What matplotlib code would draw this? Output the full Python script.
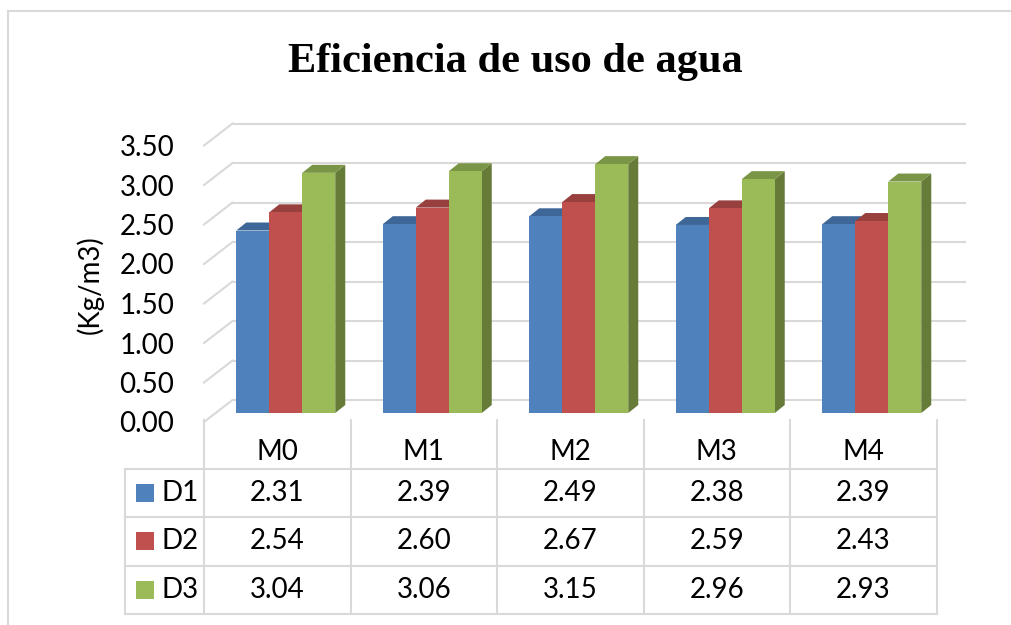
import numpy as np
import matplotlib.pyplot as plt
from matplotlib.patches import Polygon, Rectangle

# values shown in the data table
categories = ['M0', 'M1', 'M2', 'M3', 'M4']
series_names = ['D1', 'D2', 'D3']
d1 = [2.31, 2.39, 2.49, 2.38, 2.39]
d2 = [2.54, 2.60, 2.67, 2.59, 2.43]
d3 = [3.04, 3.06, 3.15, 2.96, 2.93]
yticks = [0.0, 0.5, 1.0, 1.5, 2.0, 2.5, 3.0, 3.5]

series = [d1, d2, d3]
front_cols = ['#4F81BD', '#C0504D', '#9BBB59']
top_cols = ['#3E6798', '#97403E', '#7A9545']
side_cols = ['#385D8A', '#8C3836', '#677B39']
grid_col = '#D9D9D9'
fs = 20

plt.rcParams['font.family'] = ['Lato', 'DejaVu Sans']

W, H = 1011, 625
fig = plt.figure(figsize=(W / 100, H / 100), dpi=100)


def box(left, top, right, bottom):
    # pixel box -> figure fraction rect
    return [left / W, 1 - bottom / H, (right - left) / W, (bottom - top) / H]


# front plane of the 3d plot area
ax = fig.add_axes(box(204, 145.5, 936.5, 422))
ax.set_xlim(-0.5, 4.5)
ax.set_ylim(0, 3.5)
px_x = 5 / 732.5
px_y = 3.5 / 276.5

# back wall offset and bar depth (pixels converted to data units)
back_dx, back_dy = 28.5 * px_x, 22 * px_y
shift_x, shift_y = 8.5 * px_x, 9 * px_y
depth_dx, depth_dy = 10 * px_x, 8 * px_y
bw = 33 * px_x

for v in yticks:
    ax.plot([-0.5 + back_dx, 4.5 + back_dx], [v + back_dy, v + back_dy],
            color=grid_col, lw=1.5, clip_on=False, zorder=1)
    ax.plot([-0.5, -0.5 + back_dx], [v, v + back_dy],
            color=grid_col, lw=1.5, clip_on=False, zorder=1)

xs = np.arange(len(categories))
for k, vals in enumerate(series):
    xc = xs + (k - 1) * bw + shift_x
    z = 3 + k
    ax.bar(xc, vals, width=bw, bottom=shift_y, color=front_cols[k],
           edgecolor='none', zorder=z)
    for x, v in zip(xc, vals):
        xl, xr = x - bw / 2, x + bw / 2
        y0, y1 = shift_y, shift_y + v
        top = [(xl, y1), (xr, y1), (xr + depth_dx, y1 + depth_dy), (xl + depth_dx, y1 + depth_dy)]
        side = [(xr, y0), (xr + depth_dx, y0 + depth_dy), (xr + depth_dx, y1 + depth_dy), (xr, y1)]
        ax.add_patch(Polygon(side, closed=True, facecolor=side_cols[k], edgecolor='none', zorder=z - 0.5))
        ax.add_patch(Polygon(top, closed=True, facecolor=top_cols[k], edgecolor='none', zorder=z - 0.5))

for s in ax.spines.values():
    s.set_visible(False)
ax.set_xticks([])
ax.set_yticks(yticks)
ax.set_yticklabels([f'{v:.2f}' for v in yticks])
ax.tick_params(axis='y', length=0, pad=21.5, labelsize=fs)
ax.patch.set_alpha(0)

fig.text(90 / W, 1 - 285 / H, '(Kg/m3)', rotation=90, ha='center', va='center', fontsize=fs)

fig.text(515.5 / W, 1 - 72 / H, 'Eficiencia de uso de agua', ha='center', va='baseline',
         fontsize=30.5, fontweight='bold', family='Liberation Serif')

# data table under the plot
tax = fig.add_axes(box(204, 420, 936.5, 614))
tax.set_xlim(-0.5, 4.5)
tax.set_ylim(4, 0)
tax.axis('off')
row_px = 194 / 4
x_left = -0.5 - 79 * px_x

for i in range(len(categories) + 1):
    tax.plot([i - 0.5, i - 0.5], [0, 4], color=grid_col, lw=1.5, clip_on=False)
tax.plot([x_left, x_left], [1, 4], color=grid_col, lw=1.5, clip_on=False)
for r in range(1, 5):
    tax.plot([x_left, 4.5], [r, r], color=grid_col, lw=1.5, clip_on=False)

for i, c in enumerate(categories):
    tax.text(i, 0.66, c, ha='center', va='center', fontsize=fs)

key = 18
for r, (name, vals) in enumerate(zip(series_names, series)):
    yc = r + 1.5
    tax.add_patch(Rectangle((-0.5 - 68 * px_x, yc - key / 2 / row_px), key * px_x, key / row_px,
                            facecolor=front_cols[r], edgecolor='none', clip_on=False))
    tax.text(-0.5 - 42 * px_x, yc, name, ha='left', va='center', fontsize=fs)
    for i, v in enumerate(vals):
        tax.text(i, yc, f'{v:.2f}', ha='center', va='center', fontsize=fs)

# chart area border
fig.add_artist(Rectangle((8 / W, -0.1), 1.2, 1 - 11 / H + 0.1, transform=fig.transFigure,
                         facecolor='none', edgecolor=grid_col, lw=1.5))

fig.savefig('out.png', dpi=100)
